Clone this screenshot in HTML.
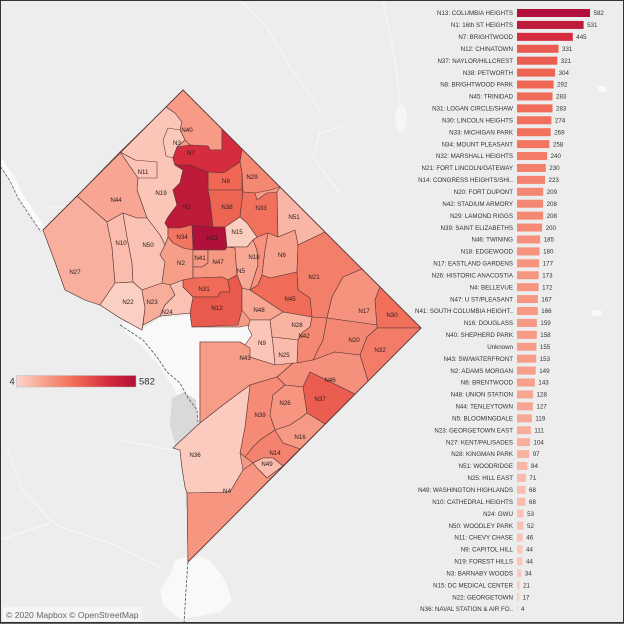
<!DOCTYPE html>
<html><head><meta charset="utf-8"><style>
html,body{margin:0;padding:0;background:#ededed;}
svg{display:block;font-family:"Liberation Sans",Arial,sans-serif;}
.l{font-size:6.2px;fill:#333;text-anchor:end;}
.v{font-size:6.2px;fill:#333;}
.m{font-size:6.2px;fill:#2a2020;text-anchor:middle;}
.n polygon{stroke:#5a3838;stroke-width:0.6;stroke-linejoin:round;}
</style></head><body>
<svg width="624" height="624" viewBox="0 0 624 624" xmlns="http://www.w3.org/2000/svg">
<defs>
<linearGradient id="g" x1="0" x2="1" y1="0" y2="0">
<stop offset="0" stop-color="#fcd4ca"/><stop offset="0.25" stop-color="#f79e89"/><stop offset="0.5" stop-color="#f06854"/><stop offset="0.75" stop-color="#d72e3e"/><stop offset="1" stop-color="#b0103a"/>
</linearGradient>
</defs>
<rect x="0" y="0" width="624" height="624" fill="#ededed"/>
<!-- faint roads -->
<g fill="none" stroke="#fafafa" stroke-width="1" opacity="0.85">
<polyline points="240,0 267,27 290,67 320,110"/>
<polyline points="383,0 387,20 395,60 400,100"/>
<polyline points="340,127 320,133 313,157 327,177 340,193"/>
<polyline points="7,450 23,490 50,520 60,527 110,543 160,567"/>
<polyline points="0,540 50,523"/>
<polyline points="120,440 157,447 173,450"/>
<polyline points="50,207 70,207"/>
</g>
<ellipse cx="401" cy="118" rx="6" ry="14" fill="#f6f6f6"/>
<ellipse cx="602" cy="89" rx="5" ry="3" fill="#fafafa"/>
<ellipse cx="597" cy="313" rx="6" ry="3" fill="#fafafa"/>
<!-- upper-left river strip -->
<polyline points="0,160 12,178 20,195 30,210 43,229" fill="none" stroke="#fbfbfb" stroke-width="5"/>
<polyline points="-2,163 10,181 18,198 28,213 41,232" fill="none" stroke="#555" stroke-width="0.7" stroke-dasharray="3,1.5"/>
<!-- Potomac water -->
<polygon points="122,322 145,328 160,318 190,315 192,327 240,327 248,322 258,330 252,345 240,342 200,342 200,428 192,440 185,410 172,385 158,364 142,346 125,332" fill="#f9f9f9"/>
<polygon points="172,398 184,392 196,400 199,440 190,451 176,448 170,425" fill="#d9d9d9"/>
<polygon points="175,560 195,555 210,560 225,580 232,600 220,612 200,616 180,619 163,606 160,590 170,575" fill="#f9f9f9"/>
<polyline points="120,325 143,340 157,357 167,372 180,383 188,398 197,410 200,446" fill="none" stroke="#555" stroke-width="0.8" stroke-dasharray="3,1.5"/>
<polyline points="188,562 186,590 184,624" fill="none" stroke="#555" stroke-width="0.8" stroke-dasharray="3,1.5"/>
<!-- DC base -->
<g class="n">
<polygon fill="#f59a85" points="183,90 421,328 188,562 187,493 185,487 182,468 180,450 173,448 200,423 200,342 240,342 250,348 258,335 250,325 240,327 192,327 190,313 160,316 143,325 142,330 120,318 100,305 85,300 65,290 55,262 43,230"/>
<polygon fill="#fbc5b8" points="120,152 166,107 175,113 182,122 180,130 185,140 177,147 173,158 175,165 183,170 180,183 173,190 177,205 168,217 165,223 168,228 168,237 165,245 160,235 147,218 137,190 138,178 135,160"/>
<polygon fill="#f79a86" points="166,107 183,90 222,129 222,150 210,150 208,146 190,145 185,140 180,130 182,122 175,113"/>
<polygon fill="#fbc9bc" points="168,128 180,130 185,140 177,147 173,158 166,156 163,140"/>
<polygon fill="#fbc4b7" points="120,152 135,160 157,162 157,178 138,178"/>
<polygon fill="#f8a693" points="77,196 120,152 138,178 137,190 147,218 137,218 123,213 107,222"/>
<polygon fill="#f9af9d" points="43,230 77,196 107,222 112,247 115,283 100,305 85,300 65,290 55,262"/>
<polygon fill="#fabcad" points="107,222 123,213 127,237 132,263 133,282 115,283 112,247"/>
<polygon fill="#fac2b4" points="123,213 137,218 147,218 160,235 165,245 160,255 165,262 162,283 142,290 133,282 132,263 127,237"/>
<polygon fill="#d52c3e" points="177,147 190,145 208,146 210,150 222,150 222,129 242,149 240,162 225,172 222,173 208,172 190,165 175,165 173,158"/>
<polygon fill="#f06854" points="208,172 222,173 225,172 240,162 242,172 242,190 208,190"/>
<polygon fill="#f48873" points="242,149 280,187 270,190 255,193 243,192 242,172 240,162"/>
<polygon fill="#be1b3b" points="175,165 190,165 208,172 208,190 210,200 213,227 192,225 180,228 168,228 165,223 168,217 177,205 173,190 180,183 183,170"/>
<polygon fill="#ee6452" points="208,190 242,190 243,192 240,217 225,227 213,227 210,200"/>
<polygon fill="#f1715d" points="243,192 255,193 257,200 267,193 277,192 278,237 268,233 257,237 247,223 240,217"/>
<polygon fill="#f9b6a6" points="277,192 280,187 325,232 298,245 295,230 278,237"/>
<polygon fill="#b0103a" points="192,225 213,227 225,227 227,247 225,250 193,250"/>
<polygon fill="#f27561" points="168,228 180,228 192,225 193,250 183,248 173,243 168,237"/>
<polygon fill="#fbcec2" points="225,227 240,217 247,223 257,237 253,240 247,247 227,247"/>
<polygon fill="#f79e89" points="165,245 168,237 173,243 183,248 193,250 193,267 193,278 183,280 170,285 162,283 165,262 160,255"/>
<polygon fill="#f69883" points="193,250 208,250 208,263 202,267 193,267"/>
<polygon fill="#f69782" points="208,250 225,250 227,247 235,248 237,275 228,280 222,277 193,278 193,267 202,267 208,263"/>
<polygon fill="#f8a996" points="227,247 247,247 253,240 257,250 258,265 250,290 242,288 237,275 235,248"/>
<polygon fill="#f6927d" points="253,240 257,237 268,233 265,250 262,275 258,285 250,290 258,265 257,250"/>
<polygon fill="#f7a08c" points="268,233 278,237 295,230 298,245 297,272 270,278 262,275 265,250"/>
<polygon fill="#f37f6b" points="298,245 325,232 362,269 343,277 332,297 327,318 312,317 310,298 298,290 297,272"/>
<polygon fill="#f16c58" points="250,290 258,285 262,275 270,278 297,272 298,290 310,298 312,317 283,312"/>
<polygon fill="#f16c58" points="183,280 193,278 222,277 228,280 230,292 220,292 218,297 193,297 183,287"/>
<polygon fill="#e9594e" points="193,297 218,297 220,292 230,292 228,280 237,275 242,288 242,310 238,325 192,327 190,313"/>
<polygon fill="#fccfc4" points="115,283 133,282 142,290 145,308 142,330 120,318 100,305"/>
<polygon fill="#f8ac9a" points="142,290 162,283 170,285 175,295 165,305 160,316 143,325 145,308"/>
<polygon fill="#fac2b4" points="170,285 183,280 183,287 193,297 190,313 160,316 165,305 175,295"/>
<polygon fill="#f8a692" points="242,288 250,290 283,312 270,320 250,320 242,310"/>
<polygon fill="#f9b1a0" points="283,312 312,317 310,327 302,333 298,340 272,337 270,320"/>
<polygon fill="#f48873" points="312,317 327,318 323,340 313,360 297,363 298,340 302,333 310,327"/>
<polygon fill="#fabbac" points="272,337 298,340 297,363 275,365 273,345"/>
<polygon fill="#fbc5b8" points="250,320 270,320 272,337 273,345 275,365 250,357 245,345 252,335 248,328"/>
<polygon fill="#f6937f" points="362,269 380,287 375,300 377,325 327,318 332,297 343,277"/>
<polygon fill="#f16f5b" points="380,287 421,328 377,328 375,300"/>
<polygon fill="#f48773" points="327,318 377,325 377,328 367,337 360,355 335,352 313,360 323,340"/>
<polygon fill="#f37c68" points="377,328 421,328 368,381 360,355 367,337"/>
<polygon fill="#f5907c" points="293,363 297,363 313,360 335,352 360,355 368,381 355,394 310,372 303,387 285,385 277,377"/>
<polygon fill="#eb5d50" points="310,372 355,394 325,424 307,413 303,387"/>
<polygon fill="#f79c87" points="200,342 240,342 250,348 250,357 275,365 293,363 277,377 250,385 223,405 200,423"/>
<polygon fill="#f58b76" points="250,385 277,377 285,385 273,395 270,415 275,430 260,440 253,447 245,457 240,453 245,427"/>
<polygon fill="#f69580" points="273,395 285,385 303,387 307,413 302,417 290,425 275,430 270,415"/>
<polygon fill="#f79a85" points="275,430 290,425 302,417 307,413 325,424 300,449 283,443"/>
<polygon fill="#f3826e" points="245,457 253,447 260,440 275,430 283,443 300,449 297,452 283,466 273,458 263,458 253,463"/>
<polygon fill="#fabcad" points="253,463 263,458 273,458 283,466 267,478 257,468"/>
<polygon fill="#fbcbbf" points="173,448 200,423 223,405 250,385 245,427 240,453 243,470 230,492 187,493 185,487 182,468 180,450"/>
<polygon fill="#f69580" points="187,493 230,492 243,470 253,463 257,468 267,478 283,466 297,452 188,562"/>
</g>
<polyline points="43,230 183,90 421,328 188,562" fill="none" stroke="#5a3838" stroke-width="0.8"/>
<!-- map labels -->
<g class="m">
<text x="187" y="132">N40</text><text x="177" y="145">N3</text><text x="191" y="155">N7</text>
<text x="143" y="174">N11</text><text x="161" y="195">N19</text><text x="116" y="202">N44</text>
<text x="226" y="183">N8</text><text x="252" y="179">N29</text><text x="187" y="209">N1</text>
<text x="227" y="209">N38</text><text x="261" y="210">N33</text><text x="294" y="219">N51</text>
<text x="121" y="245">N10</text><text x="148" y="247">N50</text><text x="182" y="239">N34</text>
<text x="212" y="240">N13</text><text x="237" y="234">N15</text><text x="181" y="265">N2</text>
<text x="200" y="260">N41</text><text x="218" y="264">N47</text><text x="241" y="273">N5</text>
<text x="254" y="259">N18</text><text x="282" y="257">N6</text><text x="314" y="279">N21</text>
<text x="204" y="291">N31</text><text x="217" y="310">N12</text><text x="290" y="301">N45</text>
<text x="364" y="313">N17</text><text x="392" y="317">N30</text><text x="354" y="342">N20</text>
<text x="380" y="352">N32</text><text x="259" y="312">N48</text><text x="297" y="327">N28</text>
<text x="304" y="338">N42</text><text x="262" y="345">N9</text><text x="284" y="357">N25</text>
<text x="245" y="360">N43</text><text x="330" y="382">N46</text><text x="320" y="401">N37</text>
<text x="285" y="405">N26</text><text x="260" y="417">N39</text><text x="300" y="439">N16</text>
<text x="275" y="455">N14</text><text x="267" y="466">N49</text><text x="195" y="457">N36</text>
<text x="227" y="493">N4</text><text x="75" y="274">N27</text><text x="128" y="304">N22</text>
<text x="152" y="304">N23</text><text x="167" y="314">N24</text>
</g>
<!-- legend -->
<rect x="16.5" y="375.5" width="119.5" height="11.5" fill="url(#g)" stroke="#bbb" stroke-width="0.5"/>
<text x="9.5" y="384.5" font-size="9.5" fill="#333">4</text>
<text x="139" y="384.5" font-size="9.5" fill="#333">582</text>
<!-- copyright -->
<rect x="3" y="607" width="139" height="14" fill="#f6f6f6" opacity="0.8"/>
<text x="6" y="618" font-size="8.6" fill="#666">© 2020 Mapbox © OpenStreetMap</text>
<!-- bar chart -->
<g>
<g transform="translate(0,13)"><text class="l" x="513" y="2.2">N13: COLUMBIA HEIGHTS</text><rect x="517" y="-4" width="73" height="8" fill="#b0103a"/><text class="v" x="593.5" y="2.2">582</text></g>
<g transform="translate(0,24.92)"><text class="l" x="513" y="2.2">N1: 16th ST HEIGHTS</text><rect x="517" y="-4" width="66.6" height="8" fill="#be1b3b"/><text class="v" x="587.1" y="2.2">531</text></g>
<g transform="translate(0,36.84)"><text class="l" x="513" y="2.2">N7: BRIGHTWOOD</text><rect x="517" y="-4" width="55.8" height="8" fill="#d52c3e"/><text class="v" x="576.3" y="2.2">445</text></g>
<g transform="translate(0,48.76)"><text class="l" x="513" y="2.2">N12: CHINATOWN</text><rect x="517" y="-4" width="41.5" height="8" fill="#e9594e"/><text class="v" x="562" y="2.2">331</text></g>
<g transform="translate(0,60.68)"><text class="l" x="513" y="2.2">N37: NAYLOR/HILLCREST</text><rect x="517" y="-4" width="40.3" height="8" fill="#eb5d50"/><text class="v" x="560.8" y="2.2">321</text></g>
<g transform="translate(0,72.6)"><text class="l" x="513" y="2.2">N38: PETWORTH</text><rect x="517" y="-4" width="38.1" height="8" fill="#ee6452"/><text class="v" x="558.6" y="2.2">304</text></g>
<g transform="translate(0,84.52)"><text class="l" x="513" y="2.2">N8: BRIGHTWOOD PARK</text><rect x="517" y="-4" width="36.6" height="8" fill="#f06854"/><text class="v" x="557.1" y="2.2">292</text></g>
<g transform="translate(0,96.44)"><text class="l" x="513" y="2.2">N45: TRINIDAD</text><rect x="517" y="-4" width="35.5" height="8" fill="#f16c58"/><text class="v" x="556" y="2.2">283</text></g>
<g transform="translate(0,108.36)"><text class="l" x="513" y="2.2">N31: LOGAN CIRCLE/SHAW</text><rect x="517" y="-4" width="35.5" height="8" fill="#f16c58"/><text class="v" x="556" y="2.2">283</text></g>
<g transform="translate(0,120.28)"><text class="l" x="513" y="2.2">N30: LINCOLN HEIGHTS</text><rect x="517" y="-4" width="34.4" height="8" fill="#f16f5b"/><text class="v" x="554.9" y="2.2">274</text></g>
<g transform="translate(0,132.2)"><text class="l" x="513" y="2.2">N33: MICHIGAN PARK</text><rect x="517" y="-4" width="33.7" height="8" fill="#f1715d"/><text class="v" x="554.2" y="2.2">269</text></g>
<g transform="translate(0,144.12)"><text class="l" x="513" y="2.2">N34: MOUNT PLEASANT</text><rect x="517" y="-4" width="32.4" height="8" fill="#f27561"/><text class="v" x="552.9" y="2.2">258</text></g>
<g transform="translate(0,156.04)"><text class="l" x="513" y="2.2">N32: MARSHALL HEIGHTS</text><rect x="517" y="-4" width="30.1" height="8" fill="#f37c68"/><text class="v" x="550.6" y="2.2">240</text></g>
<g transform="translate(0,167.96)"><text class="l" x="513" y="2.2">N21: FORT LINCOLN/GATEWAY</text><rect x="517" y="-4" width="28.8" height="8" fill="#f37f6b"/><text class="v" x="549.3" y="2.2">230</text></g>
<g transform="translate(0,179.88)"><text class="l" x="513" y="2.2">N14: CONGRESS HEIGHTS/SHI..</text><rect x="517" y="-4" width="28" height="8" fill="#f3826e"/><text class="v" x="548.5" y="2.2">223</text></g>
<g transform="translate(0,191.8)"><text class="l" x="513" y="2.2">N20: FORT DUPONT</text><rect x="517" y="-4" width="26.2" height="8" fill="#f48773"/><text class="v" x="546.7" y="2.2">209</text></g>
<g transform="translate(0,203.72)"><text class="l" x="513" y="2.2">N42: STADIUM ARMORY</text><rect x="517" y="-4" width="26.1" height="8" fill="#f48873"/><text class="v" x="546.6" y="2.2">208</text></g>
<g transform="translate(0,215.64)"><text class="l" x="513" y="2.2">N29: LAMOND RIGGS</text><rect x="517" y="-4" width="26.1" height="8" fill="#f48873"/><text class="v" x="546.6" y="2.2">208</text></g>
<g transform="translate(0,227.56)"><text class="l" x="513" y="2.2">N39: SAINT ELIZABETHS</text><rect x="517" y="-4" width="25.1" height="8" fill="#f58b76"/><text class="v" x="545.6" y="2.2">200</text></g>
<g transform="translate(0,239.48)"><text class="l" x="513" y="2.2">N46: TWINING</text><rect x="517" y="-4" width="23.2" height="8" fill="#f5907c"/><text class="v" x="543.7" y="2.2">185</text></g>
<g transform="translate(0,251.4)"><text class="l" x="513" y="2.2">N18: EDGEWOOD</text><rect x="517" y="-4" width="22.6" height="8" fill="#f6927d"/><text class="v" x="543.1" y="2.2">180</text></g>
<g transform="translate(0,263.32)"><text class="l" x="513" y="2.2">N17: EASTLAND GARDENS</text><rect x="517" y="-4" width="22.2" height="8" fill="#f6937f"/><text class="v" x="542.7" y="2.2">177</text></g>
<g transform="translate(0,275.24)"><text class="l" x="513" y="2.2">N26: HISTORIC ANACOSTIA</text><rect x="517" y="-4" width="21.7" height="8" fill="#f69580"/><text class="v" x="542.2" y="2.2">173</text></g>
<g transform="translate(0,287.16)"><text class="l" x="513" y="2.2">N4: BELLEVUE</text><rect x="517" y="-4" width="21.6" height="8" fill="#f69580"/><text class="v" x="542.1" y="2.2">172</text></g>
<g transform="translate(0,299.08)"><text class="l" x="513" y="2.2">N47: U ST/PLEASANT</text><rect x="517" y="-4" width="20.9" height="8" fill="#f69782"/><text class="v" x="541.4" y="2.2">167</text></g>
<g transform="translate(0,311)"><text class="l" x="513" y="2.2">N41: SOUTH COLUMBIA HEIGHT..</text><rect x="517" y="-4" width="20.8" height="8" fill="#f69883"/><text class="v" x="541.3" y="2.2">166</text></g>
<g transform="translate(0,322.92)"><text class="l" x="513" y="2.2">N16: DOUGLASS</text><rect x="517" y="-4" width="19.9" height="8" fill="#f79a85"/><text class="v" x="540.4" y="2.2">159</text></g>
<g transform="translate(0,334.84)"><text class="l" x="513" y="2.2">N40: SHEPHERD PARK</text><rect x="517" y="-4" width="19.8" height="8" fill="#f79a86"/><text class="v" x="540.3" y="2.2">158</text></g>
<g transform="translate(0,346.76)"><text class="l" x="513" y="2.2">Unknown</text><rect x="517" y="-4" width="19.4" height="8" fill="#f79c87"/><text class="v" x="539.9" y="2.2">155</text></g>
<g transform="translate(0,358.68)"><text class="l" x="513" y="2.2">N43: SW/WATERFRONT</text><rect x="517" y="-4" width="19.2" height="8" fill="#f79c87"/><text class="v" x="539.7" y="2.2">153</text></g>
<g transform="translate(0,370.6)"><text class="l" x="513" y="2.2">N2: ADAMS MORGAN</text><rect x="517" y="-4" width="18.7" height="8" fill="#f79e89"/><text class="v" x="539.2" y="2.2">149</text></g>
<g transform="translate(0,382.52)"><text class="l" x="513" y="2.2">N6: BRENTWOOD</text><rect x="517" y="-4" width="17.9" height="8" fill="#f7a08c"/><text class="v" x="538.4" y="2.2">143</text></g>
<g transform="translate(0,394.44)"><text class="l" x="513" y="2.2">N48: UNION STATION</text><rect x="517" y="-4" width="16.1" height="8" fill="#f8a692"/><text class="v" x="536.6" y="2.2">128</text></g>
<g transform="translate(0,406.36)"><text class="l" x="513" y="2.2">N44: TENLEYTOWN</text><rect x="517" y="-4" width="15.9" height="8" fill="#f8a693"/><text class="v" x="536.4" y="2.2">127</text></g>
<g transform="translate(0,418.28)"><text class="l" x="513" y="2.2">N5: BLOOMINGDALE</text><rect x="517" y="-4" width="14.9" height="8" fill="#f8a996"/><text class="v" x="535.4" y="2.2">119</text></g>
<g transform="translate(0,430.2)"><text class="l" x="513" y="2.2">N23: GEORGETOWN EAST</text><rect x="517" y="-4" width="13.9" height="8" fill="#f8ac9a"/><text class="v" x="534.4" y="2.2">111</text></g>
<g transform="translate(0,442.12)"><text class="l" x="513" y="2.2">N27: KENT/PALISADES</text><rect x="517" y="-4" width="13" height="8" fill="#f9af9d"/><text class="v" x="533.5" y="2.2">104</text></g>
<g transform="translate(0,454.04)"><text class="l" x="513" y="2.2">N28: KINGMAN PARK</text><rect x="517" y="-4" width="12.2" height="8" fill="#f9b1a0"/><text class="v" x="532.7" y="2.2">97</text></g>
<g transform="translate(0,465.96)"><text class="l" x="513" y="2.2">N51: WOODRIDGE</text><rect x="517" y="-4" width="10.5" height="8" fill="#f9b6a6"/><text class="v" x="531" y="2.2">84</text></g>
<g transform="translate(0,477.88)"><text class="l" x="513" y="2.2">N25: HILL EAST</text><rect x="517" y="-4" width="8.9" height="8" fill="#fabbac"/><text class="v" x="529.4" y="2.2">71</text></g>
<g transform="translate(0,489.8)"><text class="l" x="513" y="2.2">N49: WASHINGTON HIGHLANDS</text><rect x="517" y="-4" width="8.5" height="8" fill="#fabcad"/><text class="v" x="529" y="2.2">68</text></g>
<g transform="translate(0,501.72)"><text class="l" x="513" y="2.2">N10: CATHEDRAL HEIGHTS</text><rect x="517" y="-4" width="8.5" height="8" fill="#fabcad"/><text class="v" x="529" y="2.2">68</text></g>
<g transform="translate(0,513.64)"><text class="l" x="513" y="2.2">N24: GWU</text><rect x="517" y="-4" width="6.6" height="8" fill="#fac2b4"/><text class="v" x="527.1" y="2.2">53</text></g>
<g transform="translate(0,525.56)"><text class="l" x="513" y="2.2">N50: WOODLEY PARK</text><rect x="517" y="-4" width="6.5" height="8" fill="#fac2b4"/><text class="v" x="527" y="2.2">52</text></g>
<g transform="translate(0,537.48)"><text class="l" x="513" y="2.2">N11: CHEVY CHASE</text><rect x="517" y="-4" width="5.8" height="8" fill="#fbc4b7"/><text class="v" x="526.3" y="2.2">46</text></g>
<g transform="translate(0,549.4)"><text class="l" x="513" y="2.2">N9: CAPITOL HILL</text><rect x="517" y="-4" width="5.5" height="8" fill="#fbc5b8"/><text class="v" x="526" y="2.2">44</text></g>
<g transform="translate(0,561.32)"><text class="l" x="513" y="2.2">N19: FOREST HILLS</text><rect x="517" y="-4" width="5.5" height="8" fill="#fbc5b8"/><text class="v" x="526" y="2.2">44</text></g>
<g transform="translate(0,573.24)"><text class="l" x="513" y="2.2">N3: BARNABY WOODS</text><rect x="517" y="-4" width="4.3" height="8" fill="#fbc9bc"/><text class="v" x="524.8" y="2.2">34</text></g>
<g transform="translate(0,585.16)"><text class="l" x="513" y="2.2">N15: DC MEDICAL CENTER</text><rect x="517" y="-4" width="2.6" height="8" fill="#fbcec2"/><text class="v" x="523.1" y="2.2">21</text></g>
<g transform="translate(0,597.08)"><text class="l" x="513" y="2.2">N22: GEORGETOWN</text><rect x="517" y="-4" width="2.1" height="8" fill="#fccfc4"/><text class="v" x="522.6" y="2.2">17</text></g>
<g transform="translate(0,609)"><text class="l" x="513" y="2.2">N36: NAVAL STATION &amp; AIR FO..</text><rect x="517" y="-4" width="0.6" height="8" fill="#fcd4ca"/><text class="v" x="521" y="2.2">4</text></g>
</g>
<!-- frame -->
<rect x="0.5" y="0.5" width="623" height="622" fill="none" stroke="#333" stroke-width="1"/>
<line x1="0" y1="623" x2="624" y2="623" stroke="#333" stroke-width="1.5"/>
</svg>
</body></html>
